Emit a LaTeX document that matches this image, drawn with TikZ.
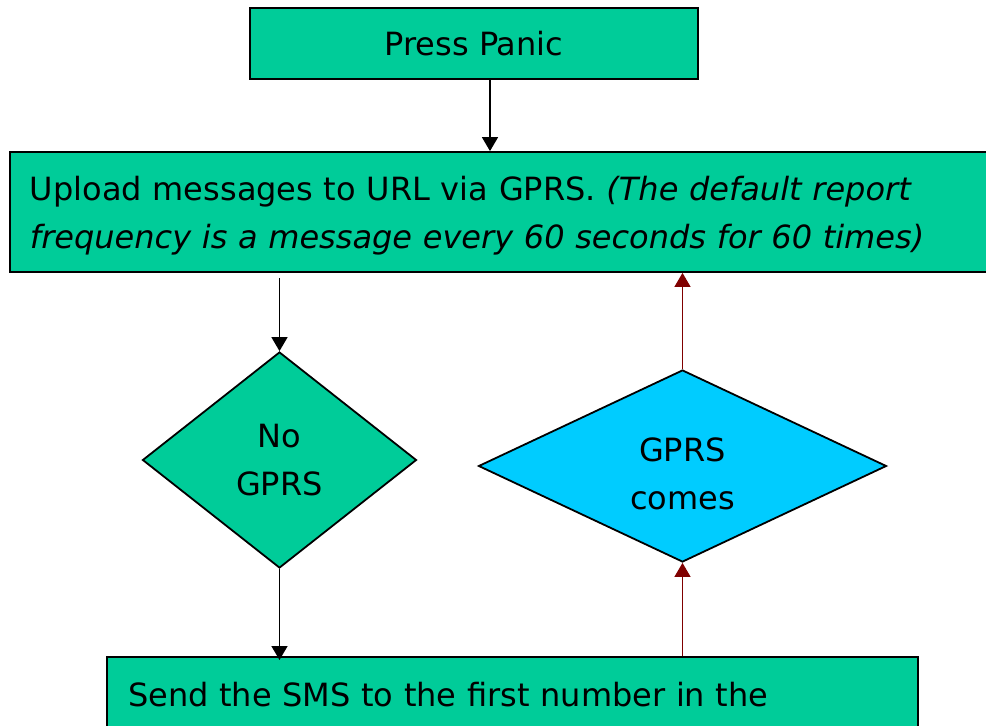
\documentclass[tikz,border=0pt]{standalone}
\usepackage{fontspec}
\setmainfont{DejaVu Sans}
\usepackage{tikz}
\usetikzlibrary{arrows.meta,shapes.geometric,calc}
\definecolor{panicgreen}{RGB}{0,204,153}
\definecolor{gprsblue}{RGB}{0,204,255}
\definecolor{backred}{RGB}{128,0,0}
\tikzstyle{box}=[rectangle,draw=black,fill=panicgreen,line width=1.8pt,inner sep=0pt,font=\fontsize{32}{48}\selectfont]
\tikzstyle{decision}=[diamond,draw=black,line width=1.8pt,inner sep=0pt,align=center,minimum width=274pt,minimum height=216pt,font=\fontsize{32}{48}\selectfont]
\tikzstyle{edge} = [draw,line width=1.6pt,-{Triangle[length=14pt,width=16pt]}]
\tikzstyle{backedge} = [edge,line width=1.2pt,draw=backred,color=backred]
\begin{document}
\begin{tikzpicture}[x=1pt,y=-1pt]

    \useasboundingbox (0,0) rectangle (986,726);
    \clip (0,0) rectangle (986,726);

    \node[box, minimum width=448pt, minimum height=71pt] (panic) at (474,43.5) {Press Panic};
    \node[box, text width=945pt, inner xsep=20pt, minimum height=120pt, align=left, text height=32pt, text depth=55.5pt] (upload) at (502.5,212)
        {Upload messages to URL via GPRS. \textit{(The default report}\\\textit{frequency is a message every 60 seconds for 60 times)}};
    \node[decision, fill=panicgreen] (nogprs) at (279.5,460) {No\\GPRS};
    \node[decision, fill=gprsblue, minimum width=408pt, minimum height=192pt, text height=87pt, text depth=0pt] (gprs) at (682.5,466) {GPRS\\comes};
    \node[box, anchor=north, text width=769pt, inner xsep=21pt, inner ysep=26pt, text height=24pt, text depth=100pt] (sms) at (512.5,656)
        {Send the SMS to the first number in the};

    % forward edges
    \path[edge] ($(panic.south)+(16,0)$) -- ($(panic.south |- upload.north)+(16,0)$);
    \path[edge] ($(upload.south -| nogprs.north)+(0,5)$) -- (nogprs.north);
    \path[edge] (nogprs.south) -- ($(sms.north -| nogprs.south)+(0,4)$);

    % GPRS back again
    \foreach \source/\dest in {sms.north -| gprs.south/gprs.south, gprs.north/upload.south -| gprs.north}
            \path[backedge] (\source) -- (\dest);

\end{tikzpicture}
\end{document}
